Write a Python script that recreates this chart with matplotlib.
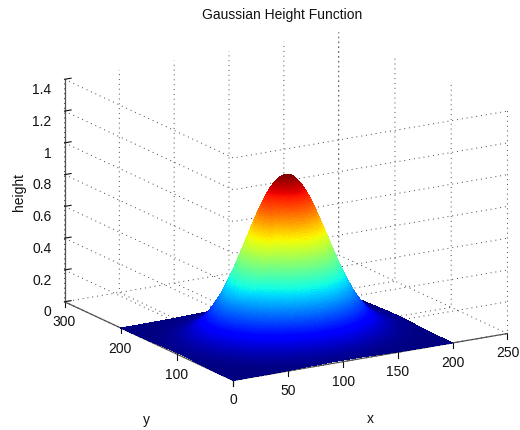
import numpy as np
import matplotlib
matplotlib.use("Agg")
import matplotlib.pyplot as plt
from matplotlib.transforms import Affine2D

# height of the bump going out from its centre, one value per unit of distance
flank = [1.000, 1.000, .998, .996, .993, .989, .984, .978, .971, .963,
         .955, .946, .936, .925, .914, .902, .889, .876, .862, .847,
         .832, .817, .801, .784, .768, .751, .733, .716, .698, .680,
         .662, .643, .625, .607, .588, .570, .552, .533, .515, .497,
         .480, .462, .445, .428, .411, .395, .379, .363, .347, .332,
         .317, .303, .289, .275, .262, .249, .237, .225, .213, .202,
         .191, .181, .171, .162, .153, .144, .135, .127, .120, .112,
         .105, .099, .093, .087, .081, .076, .071, .066, .061, .057,
         .053, .049, .046, .042, .039, .036, .034, .031, .029, .026,
         .024, .022, .021, .019, .017, .016, .015, .013, .012, .011, .010]
peak_height = 1.012
grid_x = np.arange(0, 201)
grid_y = np.arange(0, 201)

x_ticks = [0, 50, 100, 150, 200, 250]
y_ticks = [0, 100, 200, 300]
y_labels = ["", "100", "200", "300"]  # the x axis already prints the shared 0
z_ticks = [0, .2, .4, .6, .8, 1, 1.2, 1.4]
z_labels = ["0", "0.2", "0.4", "0.6", "0.8", "1", "1.2", "1.4"]

dots = (0, (1, 4))
plt.rcParams["font.family"] = ["Liberation Sans", "DejaVu Sans"]
plt.rcParams["grid.color"] = "#444444"
plt.rcParams["grid.linewidth"] = 0.7
plt.rcParams["grid.linestyle"] = dots

fig = plt.figure(figsize=(5.2, 4.3), dpi=100)
ax = fig.add_axes([30.5 / 520, -31.9 / 430, 497.5 / 520, 497.5 / 430], projection="3d", proj_type="ortho")
ax.view_init(elev=16.4, azim=-121.2)
ax.set_box_aspect((321.4, 326.6, 232.5))
ax.computed_zorder = False

# the height grid runs along the two front faces and the surface hides it
for z in z_ticks:
	ax.plot([x_ticks[0], x_ticks[0], x_ticks[-1]], [y_ticks[-1], y_ticks[0], y_ticks[0]], [z, z, z],
		color="#444444", linewidth=0.7, linestyle=dots, zorder=1)

profile = np.array(flank[::-1] + flank[1:])
X, Y = np.meshgrid(grid_x, grid_y)
Z = peak_height * np.outer(profile, profile)
ax.plot_surface(X, Y, Z, cmap="jet", rcount=201, ccount=201, linewidth=0, antialiased=False, shade=False, zorder=2)

ax.set_xlim(0, 250, view_margin=0)
ax.set_ylim(0, 300, view_margin=0)
ax.set_zlim(0, 1.4, view_margin=0)
ax.set_xticks(x_ticks)
ax.set_yticks(y_ticks)
ax.set_yticklabels(y_labels)
ax.set_zticks(z_ticks)
ax.set_zticklabels(z_labels)
ax.tick_params(pad=0, labelsize=10, colors="#111111")

for axis in (ax.xaxis, ax.yaxis, ax.zaxis):
	axis.set_pane_color((1, 1, 1, 1))
	axis.pane.set_edgecolor("none")
	axis.line.set_color("#555555")
	axis.line.set_linewidth(0.9)
	axis._axinfo["tick"]["inward_factor"] = 0
	axis._axinfo["tick"]["outward_factor"] = 0.3
	axis._axinfo["tick"]["color"] = "#555555"
ax.zaxis._axinfo["grid"]["color"] = (0, 0, 0, 0)

# x and y ticks hang straight down
ax.xaxis._get_tickdir = lambda pos: 2
ax.yaxis._get_tickdir = lambda pos: 2

def shift_labels(axis, dx, dy, ha="center"):
	# Axis3D resets the label transform in get_major_ticks, so add the shift after it
	original = axis.get_major_ticks
	def shifted(numticks=None):
		ticks = original(numticks)
		for tick in ticks:
			tick.label1.set_ha(ha)
			tick.label1.set_transform(ax.transData + Affine2D().translate(dx, dy))
		return ticks
	axis.get_major_ticks = shifted

shift_labels(ax.xaxis, -7, 0)
shift_labels(ax.yaxis, 11, -2)
shift_labels(ax.zaxis, 6, -5, ha="right")

fig.text(282 / 520, 1 - 15 / 430, "Gaussian Height Function", ha="center", va="center", fontsize=10, color="#111111")
fig.text(370 / 520, 1 - 419 / 430, "x", ha="center", va="center", fontsize=10, color="#111111")
fig.text(146 / 520, 1 - 420 / 430, "y", ha="center", va="center", fontsize=10, color="#111111")
fig.text(19 / 520, 1 - 192 / 430, "height", ha="center", va="center", rotation=90, fontsize=10, color="#111111")

fig.savefig("out.png", dpi=100)
